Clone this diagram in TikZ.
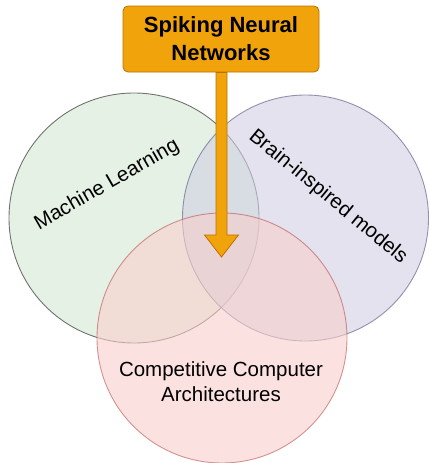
\documentclass[tikz,border=0pt]{standalone}
\usepackage{fontspec}
\setmainfont{Liberation Sans}
\usetikzlibrary{calc}
\definecolor{mlfill}{HTML}{D5E8D4}
\definecolor{mldraw}{HTML}{1A1A1A}
\definecolor{bifill}{HTML}{D0CEE2}
\definecolor{bidraw}{HTML}{56517E}
\definecolor{cafill}{HTML}{F8CECC}
\definecolor{cadraw}{HTML}{B85450}
\definecolor{orfill}{HTML}{F0A30A}
\definecolor{ordraw}{HTML}{BD7000}
\begin{document}
\begin{tikzpicture}[x=1pt,y=-1pt,
  setcircle/.style={circle, inner sep=0pt, opacity=0.6, line width=0.9pt},
  bodytext/.style={font=\fontsize{20.5}{25}\selectfont, text=black, align=center, inner sep=0pt},
  titlebox/.style={draw=ordraw, fill=orfill, rounded corners=5pt, line width=0.8pt,
    minimum width=196pt, minimum height=66pt, align=center, inner sep=0pt,
    font=\fontsize{22}{28}\selectfont\bfseries},
  arrowsty/.style={draw=ordraw, fill=orfill, line width=0.8pt, line join=miter}]
\useasboundingbox (0,0) rectangle (430,463);
% circles
\node[setcircle, draw=mldraw, fill=mlfill, minimum size=250pt] (ml) at (134,218) {};
\node[setcircle, draw=bidraw, fill=bifill, minimum size=246pt] (bi) at (305.5,218) {};
\node[setcircle, draw=cadraw, fill=cafill, minimum size=250pt] (ca) at (222,338) {};
% title and arrow
\node[titlebox] (title) at (221,39) {Spiking Neural\\Networks};
\coordinate (tip) at (221.5,257);
\draw[arrowsty]
  ([xshift=-5.5pt]title.south -| tip) -- ([xshift=-5.5pt,yshift=22pt]tip)
  -- ([xshift=-17pt,yshift=22pt]tip) -- (tip)
  -- ([xshift=17pt,yshift=22pt]tip) -- ([xshift=5.5pt,yshift=22pt]tip)
  -- ([xshift=5.5pt]title.south -| tip) -- cycle;
% labels
\node[bodytext, rotate=30] (mllabel) at (107,185) {Machine Learning};
\node[bodytext, rotate=-39.5] (bilabel) at (328,197) {Brain-inspired models};
\node[bodytext] (calabel) at (221,382) {Competitive Computer\\Architectures};
\end{tikzpicture}
\end{document}
